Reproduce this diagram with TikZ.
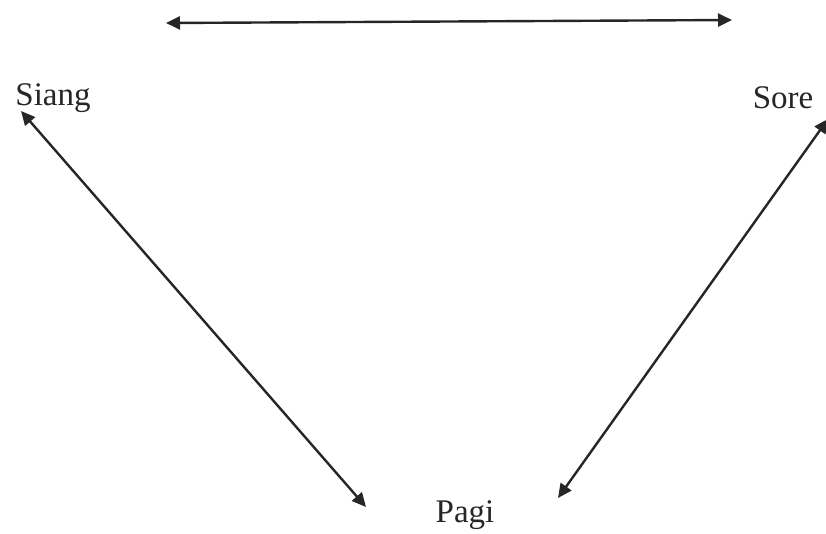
\documentclass[tikz,border=0pt]{standalone}
\usepackage{fontspec}
\setmainfont{Liberation Serif}
\usetikzlibrary{arrows.meta}
\begin{document}
\begin{tikzpicture}[x=1pt,y=-1pt,
  lbl/.style={font=\fontsize{33}{38}\selectfont, inner sep=0pt, text=black!85},
  link/.style={draw=black!85, line width=2.4pt, {Triangle[length=14pt,width=13pt]}-{Triangle[length=14pt,width=13pt]}}]
\useasboundingbox (0,0) rectangle (826,533);
\node[lbl] (siang) at (53,98) {Siang};
\node[lbl] (sore) at (783,98) {Sore};
\node[lbl] (pagi) at (465,515) {Pagi};
\coordinate (tl) at (166,23);
\coordinate (tr) at (732,20);
\coordinate (ls) at (21,111);
\coordinate (lp) at (366,507);
\coordinate (rs) at (828,119);
\coordinate (rp) at (558,498);
\draw[link] (tl) -- (tr);
\draw[link] (ls) -- (lp);
\draw[link] (rs) -- (rp);
\end{tikzpicture}
\end{document}
